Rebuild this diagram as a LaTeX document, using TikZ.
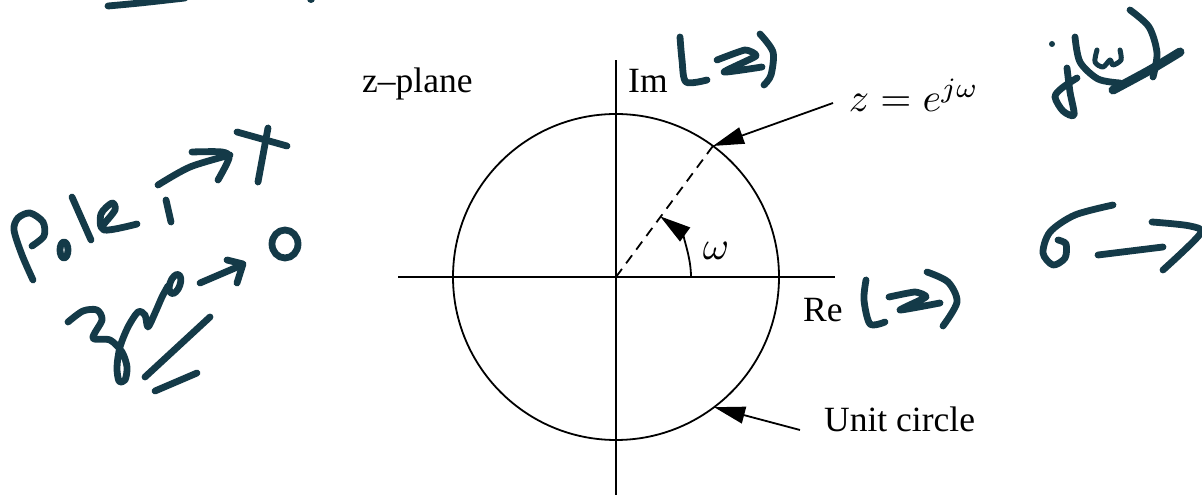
\documentclass[tikz,border=0pt]{standalone}
\usepackage{fontspec}
\setmainfont{Liberation Serif}
\usetikzlibrary{arrows.meta}
\definecolor{ink}{RGB}{20,58,72}
\begin{document}
\begin{tikzpicture}[x=1pt,y=1pt,
  ax/.style={line width=1.8pt},
  arr/.style={line width=1.8pt,-{Triangle[length=31pt,width=17pt]}},
  lab/.style={inner sep=0pt,anchor=base west,font=\fontsize{35.5}{40}\selectfont},
  mlab/.style={inner sep=0pt,anchor=base west,scale=4},
  hand/.style={draw=ink,line width=6.8pt,line cap=round,line join=round}]
\useasboundingbox (0,0) rectangle (1202,495);
% axes and circle
\coordinate (O) at (616,218);
\coordinate (L) at (398,218);
\coordinate (R) at (835,218);
\coordinate (T) at (616,435);
\coordinate (B) at (616,-2);
\draw[ax] (L) -- (R);
\draw[ax] (B) -- (T);
\draw[ax] (O) circle[radius=163];
\path (O) ++(53.5:163) coordinate (P1);
\path (O) ++(-53:163) coordinate (P2);
\path (O) ++(75,0) coordinate (A0);
\draw[ax,dash pattern=on 10pt off 7pt] (O) -- (P1);
\draw[arr] (A0) arc[start angle=0,end angle=54,radius=75];
% labels
\node[lab] (zp) at (362,402) {z--plane};
\node[lab] (im) at (628,402) {Im};
\node[lab] (re) at (803,173) {Re};
\node[lab] (uc) at (824,63) {Unit circle};
\node[mlab] (zl) at (848,383) {$z=e^{j\omega}$};
\node[mlab] (om) at (702,235) {$\omega$};
\draw[arr] ([xshift=-15pt,yshift=9pt]zl.base west) -- (P1);
\draw[arr] ([xshift=-24pt,yshift=2pt]uc.base west) -- (P2);
% handwritten annotations
\begin{scope}[yshift=495pt,yscale=-1]
\draw[hand] plot[smooth] coordinates {(108,6) (140,3) (185,-2)};
\fill[ink] (311,-1) circle (4);
% Pole -> X
\draw[hand] plot[smooth] coordinates {(33,280) (22,255) (14,230) (18,218) (30,213) (43,222) (44,236) (32,246)};
\draw[hand] (64,250) ellipse[x radius=4, y radius=8];
\draw[hand] (72,197) -- (91,240);
\draw[hand] plot[smooth] coordinates {(103,225) (115,210) (112,203) (101,214) (104,230) (137,224)};
\draw[hand] (166,200) -- (171,222);
\draw[hand] plot[smooth] coordinates {(158,185) (190,167) (230,155)};
\draw[hand] plot[smooth] coordinates {(192,152) (222,152) (229,158) (218,180)};
\draw[hand] (237,132) -- (287,146);
\draw[hand] (268,128) -- (258,182);
% zero -> O
\draw[hand] plot[smooth] coordinates {(68,322) (83,311) (97,310) (102,320) (93,338) (110,340) (122,352) (127,367) (125,380) (119,381) (117,367) (120,347) (128,327) (138,312) (145,315) (148,327) (155,313) (162,297) (168,286)};
\draw[hand,rotate around={20:(175,284)}] (175,284) ellipse[x radius=5, y radius=10];
\draw[hand] (200,283) -- (242,265);
\draw[hand] plot coordinates {(227,260) (243,264) (237,283)};
\draw[hand] (285,244) ellipse[x radius=13, y radius=14];
\draw[hand] (145,377) -- (210,317);
\draw[hand] (155,391) -- (197,373);
% Im (z)
\draw[hand] plot[smooth] coordinates {(680,37) (682,60) (686,82) (707,80)};
\draw[hand] plot[smooth,tension=0.3] coordinates {(717,60) (745,50) (756,56) (724,72) (762,67)};
\draw[hand] plot[smooth] coordinates {(760,34) (773,52) (771,75) (764,85)};
% Re (z)
\draw[hand] plot[smooth] coordinates {(866,280) (864,300) (870,324) (885,322)};
\draw[hand] plot[smooth,tension=0.3] coordinates {(889,297) (915,292) (926,297) (900,310) (940,303)};
\draw[hand] plot[smooth] coordinates {(927,272) (948,282) (957,302) (943,326)};
% j omega
\fill[ink] (1052,44) circle (3);
\draw[hand] plot[smooth] coordinates {(1067,68) (1070,92) (1074,115) (1063,111) (1055,97) (1062,88) (1077,78)};
\draw[hand] plot[smooth] coordinates {(1075,37) (1080,62) (1098,79) (1120,83)};
\draw[hand,line width=5pt] plot[smooth] coordinates {(1097,50) (1095,62) (1103,67) (1110,60) (1113,65) (1121,60) (1120,50)};
\draw[hand] plot[smooth] coordinates {(1130,10) (1149,27) (1157,53) (1153,77)};
\draw[hand,line width=9pt] plot[smooth] coordinates {(1113,90) (1150,70) (1180,52)};
% sigma ->
\draw[hand] plot[smooth] coordinates {(1113,205) (1075,215) (1050,232) (1043,253) (1053,265) (1065,258) (1066,244) (1058,240)};
\draw[hand] (1098,255) -- (1163,247);
\draw[hand] plot[smooth] coordinates {(1152,222) (1190,226) (1200,234) (1163,270)};
\end{scope}
\end{tikzpicture}
\end{document}
